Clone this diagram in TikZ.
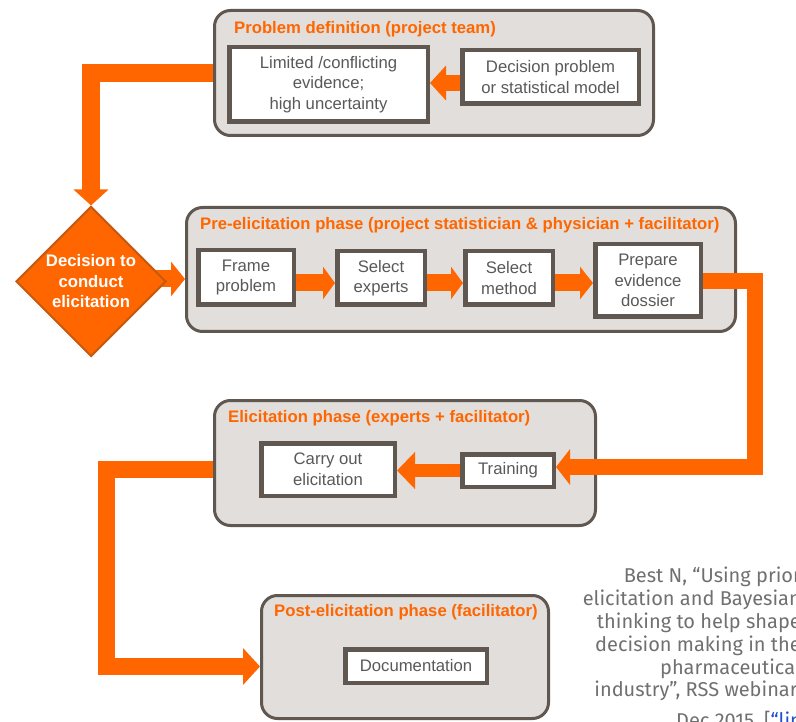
\documentclass[tikz,border=0pt]{standalone}
\usepackage{fontspec}
\setmainfont{Liberation Sans}
\newfontfamily\citefont{Fira Sans}
\usetikzlibrary{arrows.meta,shapes.geometric}
\pgfdeclarelayer{back}
\pgfdeclarelayer{phases}
\pgfdeclarelayer{mid}
\pgfsetlayers{back,phases,mid,main}
\definecolor{orng}{HTML}{FF6600}
\definecolor{phfill}{HTML}{E1DEDB}
\definecolor{phdraw}{HTML}{5F5750}
\definecolor{txtgray}{HTML}{595959}
\definecolor{dborder}{HTML}{C55A11}
\definecolor{citegray}{HTML}{707070}
\definecolor{linkblue}{HTML}{1F4FD0}
\begin{document}
\begin{tikzpicture}[x=1pt,y=-1pt,
  phase/.style={draw=phdraw, line width=3pt, fill=phfill, rounded corners=16pt, inner sep=0pt},
  box/.style={draw=phdraw, line width=4.5pt, fill=white, align=center, text=txtgray,
    font=\fontsize{16.7pt}{20.5pt}\selectfont, inner sep=0pt},
  ttl/.style={text=orng, font=\bfseries\fontsize{16.7pt}{20pt}\selectfont, anchor=west, inner sep=0pt},
  conn/.style={draw=orng, line join=miter},
]
\path[use as bounding box, clip] (0,0) rectangle (796,722);

% phases
\begin{pgfonlayer}{phases}
\node[phase, minimum width=439pt, minimum height=125pt] (p1) at (434,73) {};
\node[phase, minimum width=549pt, minimum height=124pt] (p2) at (461,269.5) {};
\node[phase, minimum width=381pt, minimum height=125pt] (p3) at (405,463) {};
\node[phase, minimum width=287pt, minimum height=123pt] (p4) at (405,657) {};
\end{pgfonlayer}

% titles
\node[ttl] (t1) at (234,29) {Problem definition (project team)};
\node[ttl] (t2) at (200,225) {Pre-elicitation phase (project statistician \& physician + facilitator)};
\node[ttl] (t3) at (228,418) {Elicitation phase (experts + facilitator)};
\node[ttl] (t4) at (274,612) {Post-elicitation phase (facilitator)};

% boxes
\node[box, minimum width=198.5pt, minimum height=74.5pt] (lim) at (328.5,84.5) {Limited /conflicting\\evidence;\\high uncertainty};
\node[box, minimum width=176.5pt, minimum height=53.5pt] (dp) at (550.5,77) {Decision problem\\or statistical model};
\node[box, minimum width=95.5pt, minimum height=54.5pt] (frame) at (246,277.5) {Frame\\problem};
\node[box, minimum width=87.5pt, minimum height=53.5pt] (exps) at (381,278) {Select\\experts};
\node[box, minimum width=87.5pt, minimum height=53.5pt] (meth) at (509,278) {Select\\method};
\node[box, minimum width=105.5pt, minimum height=72.5pt] (prep) at (648,280.5) {Prepare\\evidence\\dossier};
\node[box, minimum width=133.5pt, minimum height=52.5pt] (carry) at (328,469.5) {Carry out\\elicitation};
\node[box, minimum width=91.5pt, minimum height=32.5pt] (train) at (508,470.5) {Training};
\node[box, minimum width=141.5pt, minimum height=33.5pt] (doc) at (416,666) {Documentation};

% decision diamond
\node[diamond, aspect=1, minimum width=150pt, minimum height=150pt, inner sep=0pt,
  fill=orng, draw=dborder, line width=2pt,
  label={[text=white, align=center, font=\bfseries\fontsize{16.7pt}{20.5pt}\selectfont]center:Decision to\\conduct\\elicitation}]
  (dia) at (91,281.5) {};
\coordinate (dstart) at ([xshift=-12pt]dia.east);

% connectors behind the phase boxes
\begin{pgfonlayer}{back}
\draw[conn, line width=18pt, -{Triangle[length=16pt,width=34pt]}] (p1.west |- 0,73) -| (dia.north);
\draw[conn, line width=17pt, -{Triangle[length=14pt,width=34pt]}] (dstart |- 0,279) -- (p2.west |- 0,279);
\draw[conn, line width=17pt, -{Triangle[length=17pt,width=36pt]}] (p3.west |- 0,469) -| (106,666.5) -- (p4.west |- 0,666.5);
\end{pgfonlayer}

% connectors above the phase boxes
\begin{pgfonlayer}{mid}
\draw[conn, line width=16pt, -{Triangle[length=16pt,width=34pt]}] (dp.west |- 0,83) -- (lim.east |- 0,83);
\draw[conn, line width=17pt, -{Triangle[length=12pt,width=32pt]}] (frame.east |- 0,283) -- (exps.west |- 0,283);
\draw[conn, line width=17pt, -{Triangle[length=12pt,width=32pt]}] (exps.east |- 0,283) -- (meth.west |- 0,283);
\draw[conn, line width=17pt, -{Triangle[length=13pt,width=32pt]}] (meth.east |- 0,283) -- (prep.west |- 0,283);
\draw[conn, line width=16pt, -{Triangle[length=14pt,width=35pt]}] (prep.east |- 0,281) -| (755,467) -- (train.east |- 0,467);
\draw[conn, line width=13pt, -{Triangle[length=18pt,width=36pt]}] (train.west |- 0,470.5) -- (carry.east |- 0,470.5);
\end{pgfonlayer}

% citation
\node[anchor=north east, align=right, inner sep=0pt, text=citegray,
  font=\citefont\fontsize{20pt}{22.8pt}\selectfont] (cite) at (801,567)
  {Best N, “Using prior\\elicitation and Bayesian\\thinking to help shape\\decision making in the\\pharmaceutical\\industry”, RSS webinar,};
\node[anchor=base west, inner sep=0pt, text=citegray,
  font=\citefont\fontsize{20pt}{22.8pt}\selectfont] (cite2) at (676,727)
  {Dec 2015, [\textcolor{linkblue}{“link”}]};
\end{tikzpicture}
\end{document}
